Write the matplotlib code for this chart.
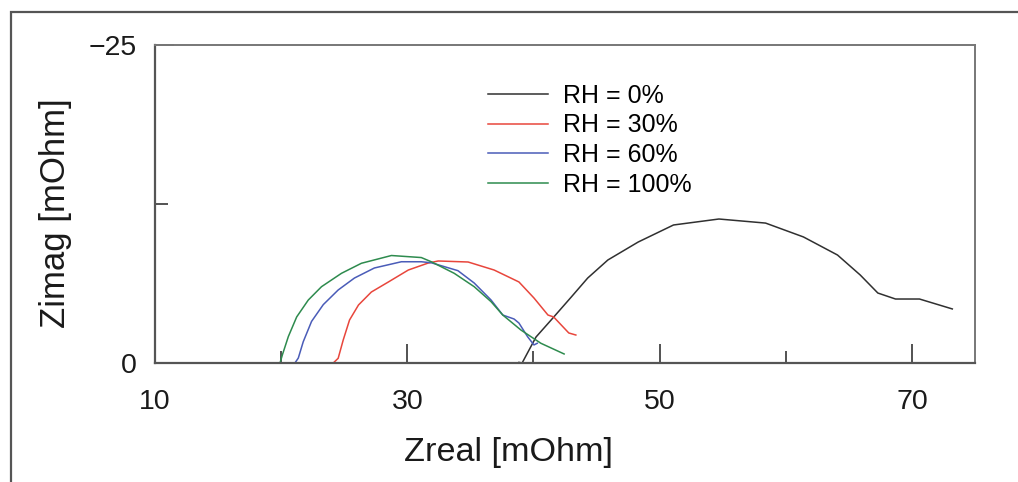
import matplotlib
matplotlib.use("Agg")
import matplotlib.pyplot as plt
from matplotlib.patches import Rectangle

plt.rcParams['font.family'] = ['Liberation Sans', 'DejaVu Sans']

# ---- data (Zreal [mOhm], Zimag [mOhm]) ----
labels = ["RH = 0%", "RH = 30%", "RH = 60%", "RH = 100%"]
colors = ["#303030", "#e8463c", "#4a5cb8", "#2e8b4e"]

rh0_x = [38.85, 39.1, 40.2, 41.4, 43.0, 44.3, 45.9, 48.3, 51.1, 54.7, 58.4, 61.4, 64.1, 65.9, 67.3, 68.7, 70.6, 73.2]
rh0_y = [-0.05, 0.0, -2.04, -3.38, -5.19, -6.68, -8.10, -9.51, -10.85, -11.32, -11.0, -9.91, -8.49, -6.92, -5.50, -5.03, -5.03, -4.25]

rh30_x = [24.13, 24.52, 24.92, 25.42, 26.13, 27.15, 28.50, 30.08, 31.66, 32.45, 34.82, 36.88, 38.85, 40.04, 41.15, 41.6, 42.8, 43.36]
rh30_y = [0.0, -0.37, -1.81, -3.38, -4.56, -5.58, -6.37, -7.31, -7.86, -8.02, -7.94, -7.31, -6.37, -5.11, -3.77, -3.62, -2.36, -2.20]

rh60_x = [21.09, 21.36, 21.75, 22.41, 23.34, 24.52, 25.81, 27.39, 29.53, 31.11, 31.90, 34.01, 35.30, 36.64, 37.57, 38.46, 38.85, 39.54, 40.04, 40.3]
rh60_y = [0.0, -0.39, -1.67, -3.27, -4.59, -5.74, -6.68, -7.47, -7.96, -7.96, -7.88, -7.26, -6.29, -4.95, -3.77, -3.46, -3.14, -2.06, -1.42, -1.55]

rh100_x = [19.91, 20.10, 20.57, 21.23, 22.15, 23.20, 24.78, 26.36, 28.74, 31.11, 31.90, 33.72, 35.30, 36.64, 37.57, 39.01, 40.59, 42.43]
rh100_y = [0.0, -0.65, -2.08, -3.62, -4.95, -6.00, -7.05, -7.84, -8.45, -8.29, -7.96, -7.05, -6.00, -4.82, -3.77, -2.59, -1.55, -0.71]

x_major = [10, 30, 50, 70]
x_minor = [20, 40, 60]
y_ticks = [0, -12.5, -25]
y_ticklabels = ["0", "", "\u221225"]

W, H = 1018, 482
fig = plt.figure(figsize=(W / 100, H / 100), dpi=100)
ax = fig.add_axes([155 / W, (H - 363) / H, (975 - 155) / W, (363 - 45) / H])

series = [(rh0_x, rh0_y), (rh30_x, rh30_y), (rh60_x, rh60_y), (rh100_x, rh100_y)]
for (xs, ys), c, lab in zip(series, colors, labels):
    ax.plot(xs, ys, color=c, lw=1.1, label=lab)

ax.set_xlim(10, 75)
ax.set_ylim(0, -25)

ax.set_xticks(x_major)
ax.set_xticks(x_minor, minor=True)
ax.set_yticks(y_ticks)
ax.set_yticklabels(y_ticklabels)
ax.tick_params(axis='both', which='major', direction='in', length=13.5, width=1.3,
               color='#444444', labelsize=20.5, labelcolor='#1a1a1a')
ax.tick_params(axis='x', which='major', pad=19)
ax.tick_params(axis='x', which='minor', direction='in', length=8.5, width=1.3, color='#444444')
ax.tick_params(axis='y', which='major', pad=13)
# shorter middle y tick
ax.yaxis.get_major_ticks()[1].tick1line.set_markersize(9.5)

for s in ['left', 'bottom']:
    ax.spines[s].set_color('#555555')
    ax.spines[s].set_linewidth(1.6)
for s in ['top', 'right']:
    ax.spines[s].set_color('#777777')
    ax.spines[s].set_linewidth(1.4)

fig.text(508 / W, 1 - 452 / H, "Zreal [mOhm]", ha='center', va='center', fontsize=24.6, color='#1a1a1a')
fig.text(56 / W, 1 - 213 / H, "Zimag [mOhm]", ha='center', va='center', rotation=90,
         fontsize=25, color='#1a1a1a')

ax.legend(loc='upper left', bbox_to_anchor=((488 - 155) / 820, (363 - 84) / 318),
          frameon=False, fontsize=18, handlelength=2.4, handletextpad=0.6,
          labelspacing=0.22, borderpad=0, borderaxespad=0)

fig.patches.append(Rectangle((11 / W, -0.1), 1.2, 1.1 - 12 / H, transform=fig.transFigure,
                             fill=False, edgecolor='#555555', lw=1.6))

fig.savefig("out.png", dpi=100)
